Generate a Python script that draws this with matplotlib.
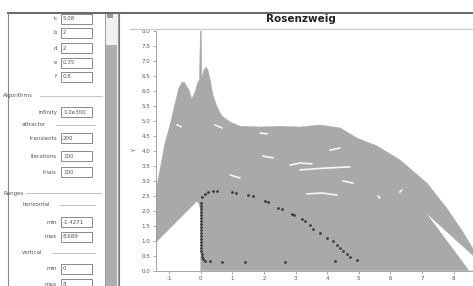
import matplotlib
matplotlib.use('Agg')
import matplotlib.pyplot as plt
from matplotlib.patches import Rectangle, Polygon
from matplotlib.lines import Line2D

# size of the screenshot in pixels
W, H = 473, 286

# parameter panel
param_names = ['k', 'b', 'd', 'e', 'f']
param_values = ['5.08', '2', '2', '0.35', '0.8']
algo_names = ['infinity', 'transients', 'iterations', 'trials']
algo_values = ['1.0e300', '200', '100', '100']
range_names = ['min', 'max', 'min', 'max']
range_values = ['-1.4271', '8.689', '0', '8']

# plot ranges
x_min, x_max = -1.4271, 8.689
y_min, y_max = 0, 8
x_ticks = [-1, 0, 1, 2, 3, 4, 5, 6, 7, 8]
y_ticks = [0.0, 0.5, 1.0, 1.5, 2.0, 2.5, 3.0, 3.5, 4.0, 4.5, 5.0, 5.5, 6.0, 6.5, 7.0, 7.5, 8.0]

# attractor cloud, upper edge (left to right)
upper_x = [-1.60, -1.446, -1.29, -1.13, -0.97, -0.81, -0.69, -0.59, -0.50, -0.37, -0.28, -0.18, -0.09,
           -0.04, -0.01, 0.02, 0.04, 0.10, 0.17, 0.23, 0.29, 0.39, 0.52, 0.67, 0.93, 1.24, 1.88,
           2.51, 3.14, 3.77, 4.41, 4.95, 5.58, 6.31, 7.16, 7.79, 8.30, 8.68, 8.90]
upper_y = [1.69, 2.52, 3.36, 4.26, 4.86, 5.59, 6.09, 6.29, 6.26, 6.02, 5.72, 5.96, 6.29,
           6.36, 8.05, 8.05, 6.42, 6.69, 6.79, 6.69, 6.42, 5.86, 5.46, 5.16, 4.96, 4.82, 4.79,
           4.82, 4.79, 4.86, 4.76, 4.42, 4.16, 3.69, 2.92, 2.08, 1.29, 0.62, 0.23]
# lower edge (left to right)
lower_x = [-1.60, -1.446, -0.24, -0.12, -0.05, 0.0, 0.0, 8.90]
lower_y = [0.75, 0.91, 2.19, 2.32, 2.22, 2.00, 0.0, 0.0]
# empty wedge at the right
wedge_x = [7.16, 8.80, 8.80, 8.50]
wedge_y = [1.89, 0.32, 0.0, 0.0]

# white gaps inside the cloud
gaps = [
    ([2.83, 3.14, 3.52], [3.52, 3.59, 3.56]),
    ([3.14, 3.93, 4.72], [3.36, 3.42, 3.46]),
    ([3.36, 3.84, 4.31], [2.56, 2.59, 2.52]),
    ([4.50, 4.82], [2.99, 2.92]),
    ([1.97, 2.29], [3.82, 3.76]),
    ([0.93, 1.24], [3.19, 3.09]),
    ([1.88, 2.10], [4.59, 4.56]),
    ([5.61, 5.67], [2.49, 2.42]),
    ([6.30, 6.37], [2.62, 2.69]),
    ([0.45, 0.67], [4.86, 4.76]),
    ([4.09, 4.41], [4.02, 4.09]),
    ([-0.75, -0.62], [4.86, 4.80]),
]

# dark orbit points
dots_x = [0.01, 0.01, 0.01, 0.01, 0.01, 0.01, 0.01, 0.01, 0.01, 0.01, 0.01, 0.01, 0.01, 0.01,
          0.01, 0.02, 0.02, 0.03, 0.05, 0.08,
          0.14, 0.29, 0.67, 1.40, 2.67, 4.25, 4.95,
          0.04, 0.14, 0.23, 0.39, 0.52, 0.99, 1.12, 1.50, 1.66, 2.03, 2.13, 2.45, 2.57, 2.89,
          2.95, 3.21, 3.30, 3.46, 3.55, 3.77, 4.00, 4.19, 4.31, 4.41, 4.50, 4.63, 4.72]
dots_y = [2.25, 2.15, 2.05, 1.95, 1.85, 1.75, 1.65, 1.55, 1.45, 1.35, 1.25, 1.15, 1.05, 0.95,
          0.85, 0.75, 0.65, 0.55, 0.46, 0.38,
          0.32, 0.32, 0.29, 0.29, 0.29, 0.31, 0.36,
          2.46, 2.56, 2.62, 2.66, 2.66, 2.62, 2.59, 2.52, 2.49, 2.32, 2.29, 2.09, 2.06, 1.89,
          1.86, 1.72, 1.66, 1.52, 1.39, 1.26, 1.09, 0.99, 0.86, 0.76, 0.66, 0.56, 0.46]

fs = 4.
cloud = '#a9a9a9'
ui_line = '#8a8a8a'
txt = '#555555'


def fx(px):
    return px / W


def fy(py):
    return 1 - py / H


fig = plt.figure(figsize=(W / 100, H / 100), dpi=100)
fig.patch.set_facecolor('white')

# frame lines
fig.add_artist(Line2D([fx(8), fx(W)], [fy(12.5), fy(12.5)], color='#666666', lw=1.4))
fig.add_artist(Line2D([fx(8), fx(8)], [fy(12.5), fy(H)], color=ui_line, lw=0.8))
fig.add_artist(Line2D([fx(130), fx(W)], [fy(29), fy(29)], color='#cccccc', lw=1.0))

# scrollbar
fig.add_artist(Rectangle((fx(105), fy(H)), fx(118) - fx(105), fy(13) - fy(H), fc='#f0f0f0', ec=ui_line, lw=0.6))
fig.add_artist(Rectangle((fx(106), fy(H)), fx(117) - fx(106), fy(45) - fy(H), fc='#adadad', ec='none'))
fig.add_artist(Rectangle((fx(107), fy(18)), fx(113) - fx(107), fy(13) - fy(18), fc='#999999', ec='none'))
fig.add_artist(Line2D([fx(118.5), fx(118.5)], [fy(13), fy(H)], color='#777777', lw=0.8))


def field(label, value, py):
    fig.text(fx(57), fy(py), label, ha='right', va='center', fontsize=fs, color=txt)
    fig.add_artist(Rectangle((fx(61), fy(py + 5)), fx(92) - fx(61), fy(py - 5) - fy(py + 5),
                             fc='white', ec='#777777', lw=0.6))
    fig.text(fx(63), fy(py), value, ha='left', va='center', fontsize=fs, color=txt)


def section(label, px, py, x_end):
    fig.text(fx(px), fy(py), label, ha='left', va='center', fontsize=fs, color=txt)
    x_start = px + 6.2 * len(label) * 0.55 + 3
    fig.add_artist(Line2D([fx(x_start), fx(x_end)], [fy(py), fy(py)], color='#bbbbbb', lw=0.6))


for _n, _v, _y in zip(param_names, param_values, [19, 33, 48, 63, 77]):
    field(_n, _v, _y)

section('Algorithms', 3, 96, 102)
field(algo_names[0], algo_values[0], 112)
section('attractor', 22, 125, 95)
for _n, _v, _y in zip(algo_names[1:], algo_values[1:], [138, 156, 172]):
    field(_n, _v, _y)

section('Ranges', 3, 193, 102)
section('horizontal', 22, 205, 95)
field(range_names[0], range_values[0], 222)
field(range_names[1], range_values[1], 237)
section('vertical', 22, 253, 95)
field(range_names[2], range_values[2], 269)
field(range_names[3], range_values[3], 284)

# title
fig.text(fx(301), fy(18.5), 'Rosenzweig', ha='center', va='center', fontsize=7.5,
         fontweight='bold', color='#222222')

# plot
ax = fig.add_axes([fx(155.6), fy(270.7), fx(475.3) - fx(155.6), fy(30.7) - fy(270.7)])
ax.set_facecolor('white')

poly = list(zip(lower_x, lower_y)) + list(zip(upper_x, upper_y))[::-1]
ax.add_patch(Polygon(poly, closed=True, fc=cloud, ec=cloud, lw=0.3, zorder=1))
ax.add_patch(Polygon(list(zip(wedge_x, wedge_y)), closed=True, fc='white', ec='none', zorder=2))
for _gx, _gy in gaps:
    ax.plot(_gx, _gy, color='white', lw=1.2, alpha=0.9, solid_capstyle='round', zorder=2)
ax.scatter(dots_x, dots_y, s=4, c='#3a3a3a', lw=0, zorder=3)

ax.set(xlim=(x_min, x_max), ylim=(y_min, y_max))
ax.set_xticks(x_ticks)
ax.set_xticklabels([f'{_t}' for _t in x_ticks], fontsize=fs, color=txt)
ax.set_yticks(y_ticks)
ax.set_yticklabels([f'{_t:.1f}' for _t in y_ticks], fontsize=fs, color=txt)
ax.tick_params(length=2, width=0.5, pad=2, colors='#888888', labelcolor=txt)
for _s in ['top', 'right']:
    ax.spines[_s].set_visible(False)
for _s in ['left', 'bottom']:
    ax.spines[_s].set_color('#999999')
    ax.spines[_s].set_linewidth(0.6)
ax.set_ylabel('Y', fontsize=fs, color=txt, labelpad=3)

fig.savefig('out.png', dpi=100)
